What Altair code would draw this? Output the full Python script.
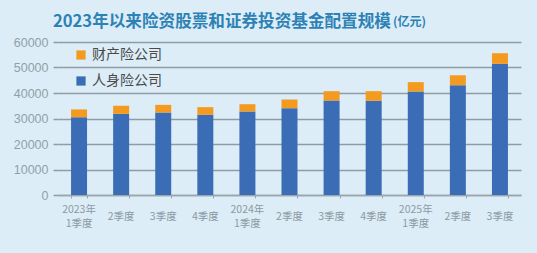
import altair as alt
import pandas as pd

quarters = ["2023Q1", "2023Q2", "2023Q3", "2023Q4", "2024Q1", "2024Q2",
            "2024Q3", "2024Q4", "2025Q1", "2025Q2", "2025Q3"]
tick_labels = ["2023年|1季度", "2季度", "3季度", "4季度", "2024年|1季度", "2季度",
               "3季度", "4季度", "2025年|1季度", "2季度", "3季度"]
life = [30500, 31800, 32350, 31450, 32750, 34050, 37050, 36950, 40600, 43050, 51450]
total = [33550, 35000, 35350, 34450, 35600, 37450, 40700, 40700, 44250, 46950, 55600]
series = ["财产险公司", "人身险公司"]
colors = ["#f39a1f", "#3b6db6"]
title_main = "2023年以来险资股票和证券投资基金配置规模"
title_unit = "(亿元)"

rows = []
for q, l, t in zip(quarters, life, total):
    rows.append({"q": q, "s": "人身险公司", "v": l, "o": 0})
    rows.append({"q": q, "s": "财产险公司", "v": t - l, "o": 1})
df = pd.DataFrame(rows)
df_lab = pd.DataFrame({"q": quarters, "lab": tick_labels})

xenc = alt.X("q:N", sort=quarters, title=None,
             scale=alt.Scale(paddingInner=0.62, paddingOuter=0.31),
             axis=alt.Axis(labels=False, domainColor="#9aa6ae", domainWidth=1.5,
                           tickColor="#9aa6ae", tickSize=3, tickBand="extent"))

bars = alt.Chart(df).mark_bar().encode(
    x=xenc,
    y=alt.Y("v:Q", stack="zero", title=None,
            scale=alt.Scale(domain=[0, 60000]),
            axis=alt.Axis(values=[0, 10000, 20000, 30000, 40000, 50000, 60000],
                          format="d",
                          domain=False, tickSize=5, tickColor="#8f9ba5", tickWidth=1.5,
                          gridColor="#8f9ba5", gridWidth=1.5, labelPadding=5,
                          labelFontSize=12.5, labelColor="#939fa8",
                          labelFont="Liberation Sans")),
    color=alt.Color("s:N", scale=alt.Scale(domain=series, range=colors),
                    legend=alt.Legend(title=None, orient="none", legendX=16, legendY=6,
                                      symbolType="square", symbolSize=85,
                                      symbolStrokeWidth=0, labelFontSize=14,
                                      labelColor="#4a4a4a", labelFont="Noto Sans CJK SC",
                                      rowPadding=12, labelOffset=4)),
    order=alt.Order("o:Q"),
)

lab_style = dict(font="Noto Sans CJK SC", fontSize=10.5, color="#8d9aa3",
                 align="center", baseline="middle", lineBreak="|", lineHeight=13.5)

labs_single = alt.Chart(df_lab).transform_filter(
    "indexof(datum.lab, '|') < 0"
).mark_text(**lab_style).encode(
    x=alt.X("q:N", sort=quarters), text="lab:N", y=alt.value(175))

labs_double = alt.Chart(df_lab).transform_filter(
    "indexof(datum.lab, '|') >= 0"
).mark_text(**lab_style).encode(
    x=alt.X("q:N", sort=quarters), text="lab:N", y=alt.value(168))

title1 = alt.Chart(pd.DataFrame({"t": [title_main]})).mark_text(
    font="Noto Sans CJK SC", fontSize=16.6, fontWeight="bold", color="#2d82b5",
    align="left", baseline="alphabetic"
).encode(text="t:N", x=alt.value(-5), y=alt.value(-15))

title2 = alt.Chart(pd.DataFrame({"t": [title_unit]})).mark_text(
    font="Noto Sans CJK SC", fontSize=12, fontWeight="bold", color="#2d82b5",
    align="left", baseline="alphabetic"
).encode(text="t:N", x=alt.value(335), y=alt.value(-16))

chart = alt.layer(bars, labs_single, labs_double, title1, title2).properties(
    width=463, height=153,
    autosize=alt.AutoSizeParams(type="none"),
    padding={"left": 58, "top": 42, "right": 16, "bottom": 58},
    background="#dcedf7",
).configure_view(stroke=None)

chart.save("out.html", embed_options={"renderer": "svg", "actions": False})
